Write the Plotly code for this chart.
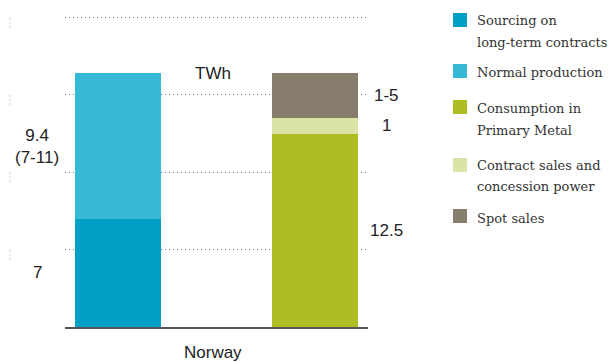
import plotly.graph_objects as go

# Norwegian power balance, TWh
categories = ["Supply", "Use"]
series_names = [
    "Sourcing on<br>long-term contracts",
    "Normal production",
    "Consumption in<br>Primary Metal",
    "Contract sales and<br>concession power",
    "Spot sales",
]
series_colors = ["#00A0C5", "#35B9D5", "#AEBD22", "#DCE3A6", "#877D6C"]
series_x = [0, 0, 1, 1, 1]
series_values = [7.0, 9.4, 12.5, 1.0, 2.9]
value_labels = ["7", "9.4<br>(7-11)", "12.5", "1", "1-5"]
gridline_values = [5, 10, 15, 20]

W, H = 616, 362
L, R, T, B = 65, 248, 13, 35
PW, PH = W - L - R, H - T - B


def px_x(p):
    return (p - L) / PW


def px_y(p):
    return (H - B - p) / PH


fig = go.Figure()
for name, color, x, v in zip(series_names, series_colors, series_x, series_values):
    fig.add_trace(go.Bar(
        x=[x], y=[v], name=name, marker=dict(color=color, line=dict(width=0)),
        width=0.44, showlegend=False, hoverinfo="skip",
    ))

label_font = dict(family="Liberation Sans", size=17, color="#222222")

# segment value labels, left of the supply bar and right of the use bar
base = {0: 0.0, 1: 0.0}
for x, v, txt in zip(series_x, series_values, value_labels):
    mid = base[x] + v / 2
    base[x] += v
    fig.add_annotation(
        x=x, y=mid, xref="x", yref="y", text=txt, showarrow=False,
        xanchor="center", yanchor="middle",
        xshift=-81 if x == 0 else 71, font=label_font,
    )

fig.add_annotation(x=0.48, y=16.4, xref="x", yref="y", text="TWh", showarrow=False,
                   xanchor="center", yanchor="middle", font=label_font)
fig.add_annotation(x=0.48, y=px_y(352), xref="x", yref="paper", text="Norway",
                   showarrow=False, xanchor="center", yanchor="middle", font=label_font)

# legend drawn as swatches and serif text
legend_rows = [(13, [20, 43]), (64, [73]), (100, [108, 130]), (158, [165, 186]), (209, [218])]
legend_font = dict(family="DejaVu Serif", size=13, color="#333333")
for (sq_top, lines), name, color in zip(legend_rows, series_names, series_colors):
    fig.add_shape(type="rect", xref="paper", yref="paper",
                  x0=px_x(453), x1=px_x(467), y0=px_y(sq_top + 14), y1=px_y(sq_top),
                  fillcolor=color, line=dict(width=0))
    for ln, py in zip(name.split("<br>"), lines):
        fig.add_annotation(x=px_x(475), y=px_y(py), xref="paper", yref="paper",
                           text=ln, showarrow=False, xanchor="left", yanchor="middle",
                           font=legend_font)

# faint tick marks along the left edge
for gv in [0] + gridline_values:
    fig.add_shape(type="line", xref="paper", yref="y",
                  x0=px_x(10), x1=px_x(10), y0=gv, y1=gv - 0.7,
                  line=dict(color="#CCCCCC", width=1, dash="2px,2px"))

fig.update_layout(
    width=W, height=H, margin=dict(l=L, r=R, t=T, b=B),
    paper_bgcolor="white", plot_bgcolor="white", barmode="stack", bargap=0,
    showlegend=False,
)
fig.update_xaxes(range=[-0.269, 1.269], showline=True, linecolor="#555555", linewidth=1.5,
                 showticklabels=False, showgrid=False, zeroline=False, ticks="")
fig.update_yaxes(range=[0, 20.3], tickvals=gridline_values, showgrid=True,
                 gridcolor="#777777", gridwidth=1, griddash="1px,3px",
                 showticklabels=False, zeroline=False, showline=False, ticks="")

fig.write_html("out.html")
